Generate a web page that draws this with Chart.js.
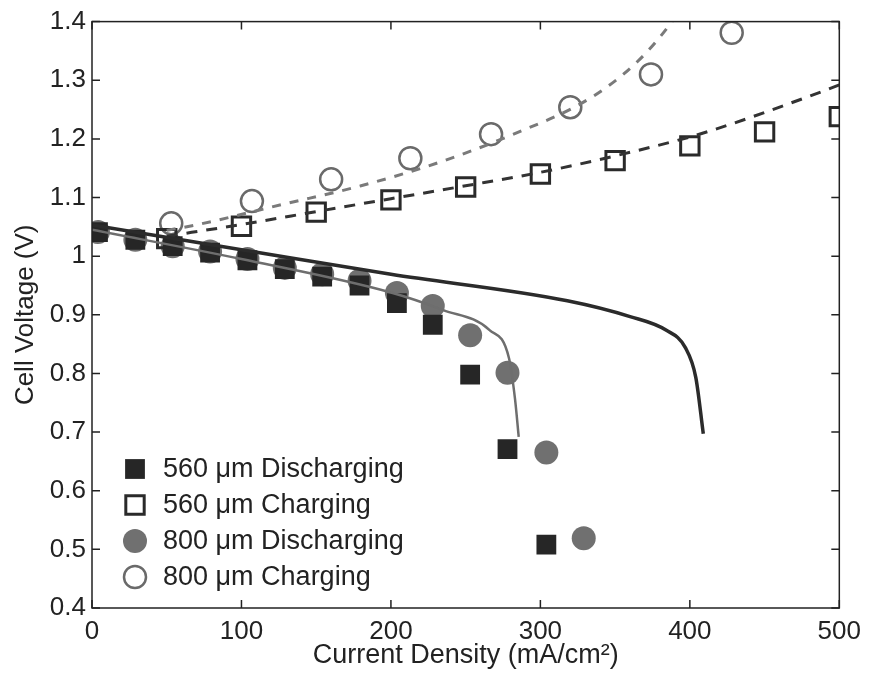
<!doctype html>
<html>
<head>
<title>Cell Voltage vs Current Density</title>
<script src="https://cdn.jsdelivr.net/npm/chart.js@4.4.1/dist/chart.umd.min.js"></script>
<style>
body { margin: 0; background: #fff; }
#wrap { width: 869px; height: 677px; }
</style>
</head>
<body>
<div id="wrap"><canvas id="canvas" width="869" height="677"></canvas></div>
<script>
// measured points (current density in mA/cm2, voltage in V)
var dis560X = [4, 29, 54, 79, 104, 129, 154, 179, 204, 228, 253, 278, 304];
var dis560Y = [1.041, 1.028, 1.017, 1.006, 0.993, 0.978, 0.965, 0.950, 0.920, 0.883, 0.798, 0.671, 0.508];

var chg560X = [50, 100, 150, 200, 250, 300, 350, 400, 450, 500];
var chg560Y = [1.030, 1.051, 1.075, 1.096, 1.118, 1.140, 1.163, 1.188, 1.212, 1.238];

var dis800X = [4, 29, 54, 79, 104, 129, 154, 179, 204, 228, 253, 278, 304, 329];
var dis800Y = [1.041, 1.028, 1.017, 1.008, 0.995, 0.980, 0.969, 0.958, 0.937, 0.915, 0.865, 0.801, 0.665, 0.519];

var chg800X = [53, 107, 160, 213, 267, 320, 374, 428];
var chg800Y = [1.056, 1.094, 1.131, 1.167, 1.208, 1.254, 1.310, 1.381];

// model curves
var modelDarkX = [0, 100, 200, 318, 360, 384, 397, 404, 409];
var modelDarkY = [1.053, 1.011, 0.969, 0.924, 0.897, 0.874, 0.844, 0.793, 0.697];

var modelGreyX = [0, 100, 200, 235, 266, 279, 283, 285.5];
var modelGreyY = [1.045, 0.995, 0.938, 0.908, 0.874, 0.826, 0.757, 0.692];

var fitChg560X = [50, 100, 150, 200, 250, 300, 355, 409, 476, 500];
var fitChg560Y = [1.034, 1.054, 1.076, 1.098, 1.120, 1.143, 1.174, 1.210, 1.269, 1.292];

var fitChg800X = [50, 71, 127, 180, 230, 280, 333, 365, 388, 398];
var fitChg800Y = [1.044, 1.054, 1.088, 1.120, 1.158, 1.206, 1.269, 1.332, 1.400, 1.440];

var xTicks = [0, 100, 200, 300, 400, 500];
var yMin = 0.4, yMax = 1.4;

var seriesNames = ['560 \u03bcm Discharging', '560 \u03bcm Charging', '800 \u03bcm Discharging', '800 \u03bcm Charging'];

function pts(xs, ys) {
	var out = [];
	for (var i = 0; i < xs.length; i++) out.push({x: xs[i], y: ys[i]});
	return out;
}

var FONT = "'Liberation Sans', Arial, Helvetica, sans-serif";
var INK = '#222';

function curve(data, color, width, dash) {
	return {
		data: data,
		showLine: true,
		pointRadius: 0,
		borderColor: color,
		borderWidth: width,
		borderDash: dash || [],
		cubicInterpolationMode: 'monotone',
		fill: false,
		isCurve: true
	};
}

// inward ticks + frame, like the MATLAB box
var boxPlugin = {
	id: 'box',
	afterDraw: function(chart) {
		var ctx = chart.ctx, a = chart.chartArea;
		var xs = chart.scales.x, ys = chart.scales.y;
		ctx.save();
		ctx.strokeStyle = INK;
		ctx.lineWidth = 1.5;
		ctx.strokeRect(a.left, a.top, a.right - a.left, a.bottom - a.top);
		ctx.beginPath();
		xTicks.forEach(function(v) {
			var px = xs.getPixelForValue(v);
			ctx.moveTo(px, a.bottom); ctx.lineTo(px, a.bottom - 8);
			ctx.moveTo(px, a.top); ctx.lineTo(px, a.top + 8);
		});
		ys.ticks.forEach(function(t) {
			var py = ys.getPixelForValue(t.value);
			ctx.moveTo(a.left, py); ctx.lineTo(a.left + 8, py);
			ctx.moveTo(a.right, py); ctx.lineTo(a.right - 8, py);
		});
		ctx.stroke();
		ctx.restore();
	}
};

// legend drawn inside the plot, lower left
var legendPlugin = {
	id: 'innerLegend',
	afterDraw: function(chart) {
		var ctx = chart.ctx, a = chart.chartArea;
		var rows = [139, 103, 67, 31];
		ctx.save();
		ctx.font = '27px ' + FONT;
		ctx.textBaseline = 'middle';
		ctx.fillStyle = INK;
		var markers = chart.data.datasets.filter(function(d) { return !d.isCurve; });
		markers.forEach(function(d, i) {
			var cx = a.left + 43, cy = a.bottom - rows[i];
			ctx.lineWidth = d.borderWidth;
			ctx.strokeStyle = d.borderColor;
			ctx.fillStyle = d.backgroundColor;
			ctx.beginPath();
			if (d.pointStyle === 'rect') {
				var s = d.pointRadius * Math.SQRT1_2;
				ctx.rect(cx - s, cy - s, 2 * s, 2 * s);
			} else {
				ctx.arc(cx, cy, d.pointRadius, 0, Math.PI * 2);
			}
			ctx.fill();
			if (d.borderWidth) ctx.stroke();
			ctx.fillStyle = INK;
			ctx.fillText(d.label, a.left + 71, cy + 1);
		});
		ctx.restore();
	}
};

var ctx = document.getElementById('canvas').getContext('2d');
window.myChart = new Chart(ctx, {
	type: 'scatter',
	data: {
		datasets: [
			curve(pts(modelDarkX, modelDarkY), '#2b2b2b', 3.5),
			curve(pts(modelGreyX, modelGreyY), '#6e6e6e', 2.5),
			curve(pts(fitChg560X, fitChg560Y), '#333333', 3, [11, 9]),
			curve(pts(fitChg800X, fitChg800Y), '#7a7a7a', 3, [9, 9]),
			{
				label: seriesNames[0],
				data: pts(dis560X, dis560Y),
				pointStyle: 'rect',
				pointRadius: 14,
				backgroundColor: '#262626',
				borderColor: '#262626',
				borderWidth: 0
			},
			{
				label: seriesNames[1],
				data: pts(chg560X, chg560Y),
				pointStyle: 'rect',
				pointRadius: 13,
				backgroundColor: 'rgba(0,0,0,0)',
				borderColor: '#2a2a2a',
				borderWidth: 3
			},
			{
				label: seriesNames[2],
				data: pts(dis800X, dis800Y),
				pointStyle: 'circle',
				pointRadius: 12,
				backgroundColor: '#707070',
				borderColor: '#707070',
				borderWidth: 0
			},
			{
				label: seriesNames[3],
				data: pts(chg800X, chg800Y),
				pointStyle: 'circle',
				pointRadius: 11,
				backgroundColor: 'rgba(0,0,0,0)',
				borderColor: '#6a6a6a',
				borderWidth: 2.5
			}
		]
	},
	options: {
		responsive: false,
		animation: false,
		layout: { padding: { top: 15, right: 29, left: 0, bottom: 0 } },
		plugins: {
			legend: { display: false },
			tooltip: { enabled: false }
		},
		scales: {
			x: {
				type: 'linear',
				min: 0,
				max: 500,
				afterFit: function(s) { s.height = 69; },
				afterBuildTicks: function(s) { s.ticks = xTicks.map(function(v) { return {value: v}; }); },
				grid: { display: false, drawTicks: false },
				border: { display: false },
				ticks: { color: INK, padding: 8, font: { family: FONT, size: 26 } },
				title: {
					display: true,
					text: 'Current Density (mA/cm\u00b2)',
					color: INK,
					font: { family: FONT, size: 27 },
					padding: { top: 0, bottom: 5 }
				}
			},
			y: {
				type: 'linear',
				min: yMin,
				max: yMax,
				afterFit: function(s) { s.width = 92; },
				grid: { display: false, drawTicks: false },
				border: { display: false },
				ticks: {
					stepSize: 0.1,
					color: INK,
					padding: 6,
					font: { family: FONT, size: 26 },
					callback: function(v) { return String(+v.toFixed(1)); }
				},
				title: {
					display: true,
					text: 'Cell Voltage (V)',
					color: INK,
					font: { family: FONT, size: 26 },
					padding: { top: 10, bottom: 0 }
				}
			}
		}
	},
	plugins: [boxPlugin, legendPlugin]
});
</script>
</body>
</html>
